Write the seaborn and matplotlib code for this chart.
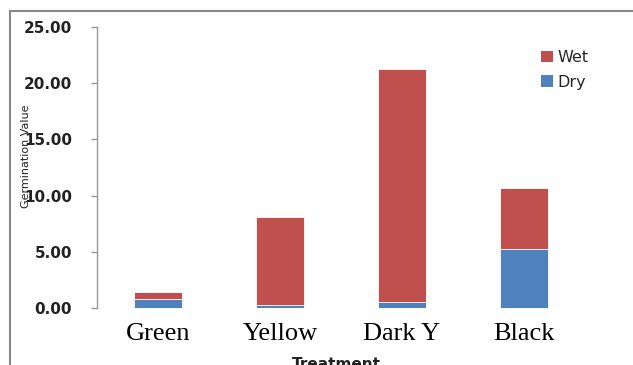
import matplotlib
matplotlib.use("Agg")
import matplotlib.pyplot as plt
from matplotlib.patches import Rectangle, Patch
import pandas as pd
import seaborn as sns

treatments = ["Green", "Yellow", "Dark Y", "Black"]
dry = [0.80, 0.24, 0.53, 5.22]
wet = [0.65, 7.88, 20.77, 5.48]
y_ticks = [0, 5, 10, 15, 20, 25]

RED = "#C0504D"
BLUE = "#4F81BD"

df = pd.DataFrame({"Treatment": treatments, "Dry": dry, "Wet": wet})
df["Total"] = df["Dry"] + df["Wet"]

sns.set_theme(style="white")
fig = plt.figure(figsize=(6.33, 3.65), dpi=100)
ax = fig.add_axes([97 / 633, 1 - 308 / 365, (585 - 97) / 633, (308 - 27) / 365])

# stacked bars: full height in red, dry part drawn over it in blue
sns.barplot(data=df, x="Treatment", y="Total", color=RED, width=0.4,
            saturation=1, ax=ax, edgecolor="white", linewidth=0.6)
sns.barplot(data=df, x="Treatment", y="Dry", color=BLUE, width=0.4,
            saturation=1, ax=ax, edgecolor="white", linewidth=0.6)

ax.set_ylim(0, 25)
ax.set_xlim(-0.5, 3.5)
ax.set_yticks(y_ticks)
ax.set_yticklabels([f"{v:.2f}" for v in y_ticks], fontsize=11,
                   fontweight="bold", family="DejaVu Sans", color="#222222")
ax.set_xticks(range(len(treatments)))
ax.set_xticklabels(treatments, fontsize=19, family="Liberation Serif", color="black")
ax.tick_params(axis="y", left=True, length=4, width=1, color="#999999", pad=14)
ax.tick_params(axis="x", bottom=False, pad=5)
ax.set_xlabel("")
ax.set_ylabel("")
for side in ["top", "right", "bottom"]:
    ax.spines[side].set_visible(False)
ax.spines["left"].set_color("#999999")
ax.spines["left"].set_linewidth(1)

fig.text(26 / 633, 1 - 156 / 365, "Germination Value", rotation=90,
         fontsize=8, family="DejaVu Sans", ha="center", va="center", color="#222222")
fig.text(336 / 633, 1 - 357 / 365, "Treatment", fontsize=11, fontweight="bold",
         family="DejaVu Sans", ha="center", va="top", color="#222222")

handles = [Patch(facecolor=RED, edgecolor="none", label="Wet"),
           Patch(facecolor=BLUE, edgecolor="none", label="Dry")]
fig.legend(handles=handles, loc="upper left", bbox_to_anchor=(541 / 633, 1 - 50 / 365),
           frameon=False, fontsize=11.5, handlelength=0.75, handleheight=0.75,
           handletextpad=0.3, labelspacing=0.6, borderaxespad=0, borderpad=0)

# outer chart frame
fig.patches.append(Rectangle((10 / 633, -0.1), 1.0, 1 - 11 / 365 + 0.1,
                             transform=fig.transFigure, fill=False,
                             edgecolor="#888888", linewidth=1.5))

fig.savefig("out.png", dpi=100)
